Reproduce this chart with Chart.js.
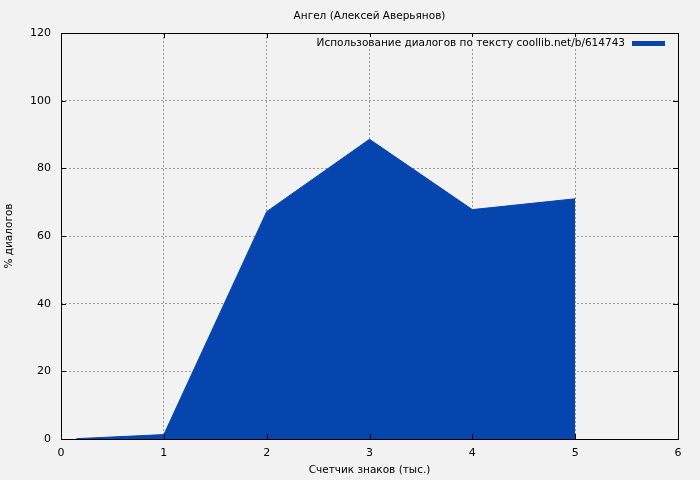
<!DOCTYPE html>
<html lang="ru">
<head>
<meta charset="UTF-8">
<title>Ангел (Алексей Аверьянов)</title>
<script src="https://cdn.jsdelivr.net/npm/chart.js@4/dist/chart.umd.min.js"></script>
<style>
  html, body { margin: 0; padding: 0; background: #f2f2f2; }
  #wrap { width: 700px; height: 480px; }
</style>
</head>
<body>
<div id="wrap"><canvas id="chart" width="700" height="480"></canvas></div>
<script>
// data
const chartTitle = 'Ангел (Алексей Аверьянов)';
const seriesLabel = 'Использование диалогов по тексту coollib.net/b/614743';
const xValues = [0.15, 1, 2, 3, 4, 5];       // тыс. знаков
const yValues = [0.1, 1.3, 67.2, 88.6, 67.8, 71.0]; // % диалогов
const xTicks = [0, 1, 2, 3, 4, 5, 6];
const yTicks = [0, 20, 40, 60, 80, 100, 120];

const fillColor = '#0645ad';
const fontFamily = '"DejaVu Sans", sans-serif';

// frame, inner tick marks, title and legend box drawn like gnuplot does
const framePlugin = {
  id: 'frame',
  afterDatasetsDraw(chart) {
    const ctx = chart.ctx;
    const a = chart.chartArea;
    const xs = chart.scales.x, ys = chart.scales.y;
    ctx.save();
    ctx.strokeStyle = '#000';
    ctx.lineWidth = 1;
    ctx.beginPath();
    xTicks.forEach(v => {
      const px = Math.round(xs.getPixelForValue(v)) + 0.5;
      ctx.moveTo(px, a.bottom); ctx.lineTo(px, a.bottom - 5);
      ctx.moveTo(px, a.top); ctx.lineTo(px, a.top + 5);
    });
    yTicks.forEach(v => {
      const py = Math.round(ys.getPixelForValue(v)) + 0.5;
      ctx.moveTo(a.left, py); ctx.lineTo(a.left + 5, py);
      ctx.moveTo(a.right, py); ctx.lineTo(a.right - 5, py);
    });
    ctx.stroke();
    ctx.strokeRect(Math.round(a.left) + 0.5, Math.round(a.top) + 0.5,
                   Math.round(a.right - a.left), Math.round(a.bottom - a.top));

    // title, centred over the plot
    ctx.font = '10.5px ' + fontFamily;
    ctx.fillStyle = '#000';
    ctx.textAlign = 'center';
    ctx.textBaseline = 'middle';
    ctx.fillText(chartTitle, (a.left + a.right) / 2, 16);

    // legend
    const tw = ctx.measureText(seriesLabel).width;
    const lineX2 = a.right - 13, lineX1 = lineX2 - 33;
    const textRight = lineX1 - 7;
    const ly = a.top + 10;
    ctx.fillStyle = '#f2f2f2';
    ctx.fillRect(textRight - tw - 4, ly - 6, tw + 4, 12);
    ctx.fillStyle = '#000';
    ctx.textAlign = 'right';
    ctx.fillText(seriesLabel, textRight, ly);
    ctx.fillStyle = fillColor;
    ctx.fillRect(lineX1, ly - 2, lineX2 - lineX1, 5);
    ctx.restore();
  }
};

const ctx = document.getElementById('chart').getContext('2d');
const chart = new Chart(ctx, {
  type: 'line',
  data: {
    datasets: [{
      label: seriesLabel,
      data: xValues.map((x, i) => ({ x: x, y: yValues[i] })),
      backgroundColor: fillColor,
      borderColor: fillColor,
      borderWidth: 1,
      pointRadius: 0,
      fill: 'origin',
      tension: 0
    }]
  },
  options: {
    responsive: false,
    animation: false,
    layout: { padding: { left: 0, right: 22, top: 33, bottom: 0 } },
    plugins: {
      legend: { display: false },
      tooltip: { enabled: false },
      title: { display: false }
    },
    scales: {
      x: {
        type: 'linear',
        min: 0, max: 6,
        afterBuildTicks: s => { s.ticks = xTicks.map(v => ({ value: v })); },
        afterFit: s => { s.height = 41; },
        grid: { color: '#999', lineWidth: 1, drawTicks: false },
        border: { display: false, dash: [2, 2] },
        ticks: { color: '#000', padding: 8, font: { family: fontFamily, size: 11 } },
        title: {
          display: true, text: 'Счетчик знаков (тыс.)', color: '#000',
          font: { family: fontFamily, size: 10.5 }, padding: { top: 0, bottom: 3 }
        }
      },
      y: {
        min: 0, max: 120,
        afterBuildTicks: s => { s.ticks = yTicks.map(v => ({ value: v })); },
        afterFit: s => { s.width = 61; },
        grid: { color: '#999', lineWidth: 1, drawTicks: false },
        border: { display: false, dash: [2, 2] },
        ticks: { color: '#000', padding: 10, font: { family: fontFamily, size: 11 } },
        title: {
          display: true, text: '% диалогов', color: '#000',
          font: { family: fontFamily, size: 10.5 }, padding: { top: 3, bottom: 0 }
        }
      }
    }
  },
  plugins: [framePlugin]
});
</script>
</body>
</html>
